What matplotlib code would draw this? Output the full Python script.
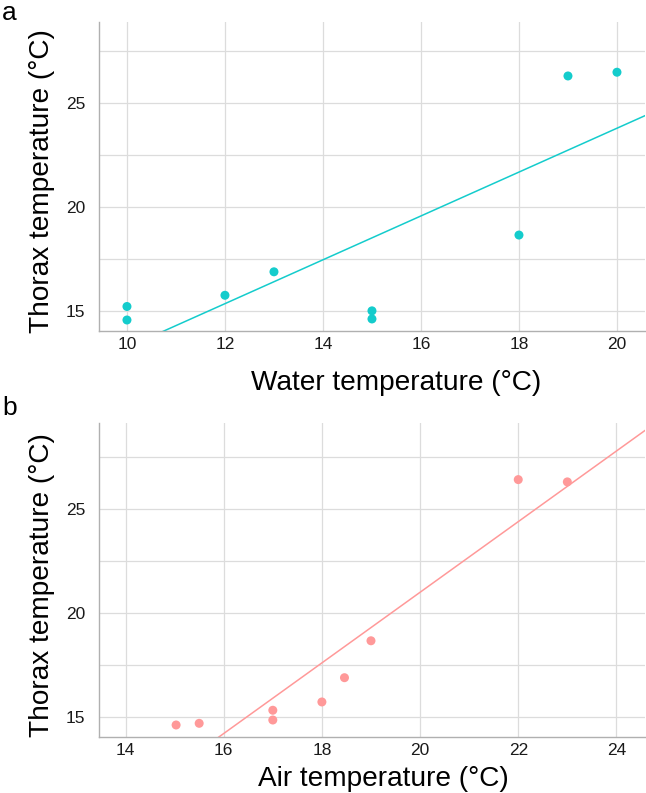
import matplotlib.pyplot as plt
import numpy as np
from matplotlib.ticker import MultipleLocator

plt.rcParams['font.family'] = ['Liberation Sans', 'DejaVu Sans']

# panel a: water temperature vs thorax temperature
water_temp = [10, 10, 12, 13, 15, 15, 18, 19, 20]
thorax_a = [15.2, 14.55, 15.74, 16.87, 14.99, 14.6, 18.64, 26.3, 26.48]

# panel b: air temperature vs thorax temperature
air_temp = [15.03, 15.5, 17, 17, 18, 18.46, 19, 22, 23]
thorax_b = [14.6, 14.68, 15.31, 14.84, 15.71, 16.88, 18.66, 26.43, 26.32]

water_ticks = [10, 12, 14, 16, 18, 20]
air_ticks = [14, 16, 18, 20, 22, 24]
y_ticks = [15, 20, 25]

fig = plt.figure(figsize=(6.46, 7.93), dpi=100)
ax_a = fig.add_axes([0.1533, 0.5826, 0.845, 0.3897])
ax_b = fig.add_axes([0.1533, 0.0706, 0.845, 0.396])


def style(ax, x, y, color, xticks, xlim, ylim, xlabel, xlab_pos, ylab_pos):
    ax.scatter(x, y, s=42, color=color, edgecolors='none', zorder=3)
    slope, inter = np.polyfit(x, y, 1)
    xs = np.array(xlim)
    ax.plot(xs, slope * xs + inter, color=color, lw=1.1, zorder=2)
    ax.set_xlim(xlim)
    ax.set_ylim(ylim)
    ax.set_xticks(xticks)
    ax.set_yticks(y_ticks)
    ax.yaxis.set_minor_locator(MultipleLocator(2.5))
    ax.grid(True, which='both', color='#dcdcdc', lw=0.9, zorder=0)
    ax.set_axisbelow(True)
    for s in ['top', 'right']:
        ax.spines[s].set_visible(False)
    for s in ['left', 'bottom']:
        ax.spines[s].set_color('#b0b0b0')
        ax.spines[s].set_linewidth(1.0)
    ax.tick_params(axis='both', which='both', length=0, labelsize=12.5,
                   labelcolor='#1a1a1a')
    ax.tick_params(axis='x', pad=4)
    ax.tick_params(axis='y', pad=10)
    ax.set_xlabel(xlabel, fontsize=20.2, va='center')
    ax.set_ylabel('Thorax temperature (°C)', fontsize=20.2, va='center')
    ax.xaxis.set_label_coords(*xlab_pos)
    ax.yaxis.set_label_coords(*ylab_pos)


style(ax_a, water_temp, thorax_a, '#14cccc', water_ticks, (9.43, 20.57),
      (14.02, 28.9), 'Water temperature (°C)', (0.544, -0.169), (-0.104, 0.486))
style(ax_b, air_temp, thorax_b, '#ff9999', air_ticks, (13.46, 24.58),
      (14.02, 29.16), 'Air temperature (°C)', (0.52, -0.135), (-0.104, 0.484))

fig.text(0.003, 0.983, 'a', fontsize=19, va='center', ha='left')
fig.text(0.003, 0.485, 'b', fontsize=19, va='center', ha='left')

fig.savefig('out.png', dpi=100)
plt.close(fig)
